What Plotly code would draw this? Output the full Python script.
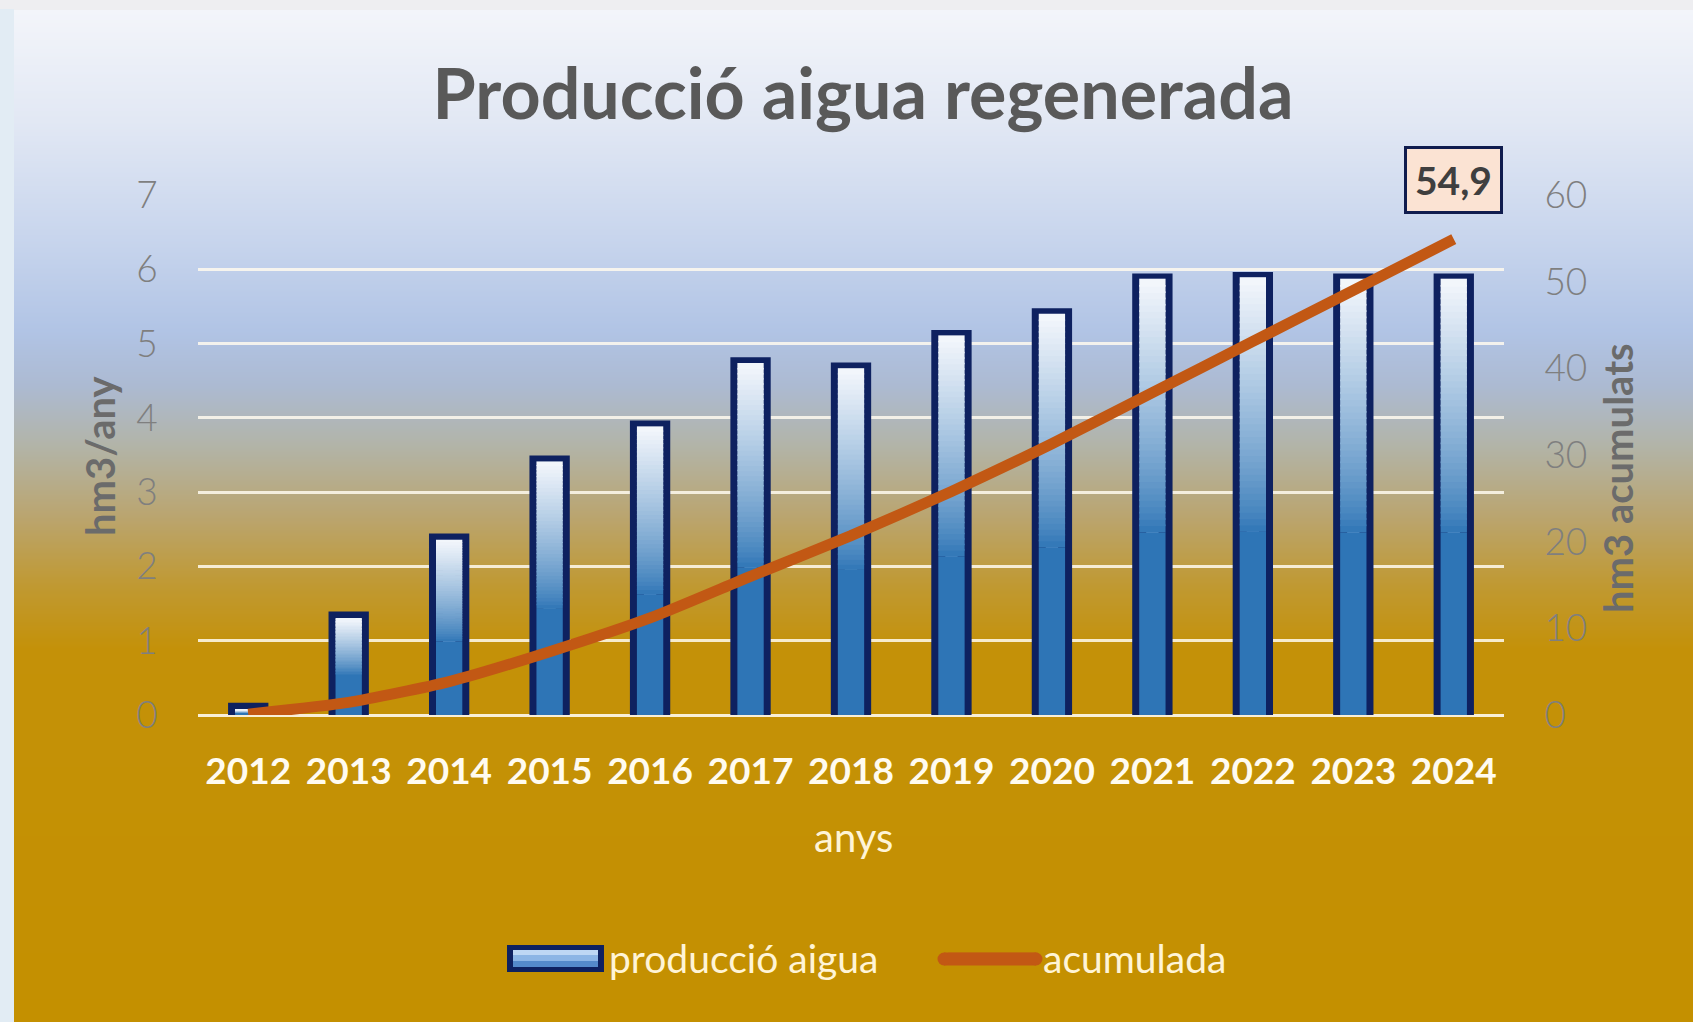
import base64
import struct
import zlib

import plotly.graph_objects as go

# ---------------- data ----------------
years = ["2012", "2013", "2014", "2015", "2016", "2017", "2018",
         "2019", "2020", "2021", "2022", "2023", "2024"]
produccio = [0.07, 1.3, 2.35, 3.4, 3.87, 4.72, 4.65, 5.09, 5.38, 5.85, 5.87, 5.85, 5.85]
acumulada = [0.1, 1.45, 3.85, 7.3, 11.2, 16.0, 20.7, 25.8, 31.3, 37.2, 43.1, 49.0, 54.9]
left_ticks = [0, 1, 2, 3, 4, 5, 6, 7]
right_ticks = [0, 10, 20, 30, 40, 50, 60]
last_label = "54,9"

# ---------------- geometry ----------------
W, H = 1693, 1022
ML, MR, MT, MB = 198, 189, 195, 307
PW, PH = W - ML - MR, H - MT - MB


def px_x(x):
    return (x - ML) / PW


def px_y(y):
    return (H - MB - y) / PH


# ---------------- background gradient image ----------------
stops = [
    (0, (238, 238, 241)), (9, (238, 238, 241)),
    (10, (243, 245, 250)), (120, (226, 232, 244)), (250, (197, 211, 236)),
    (330, (177, 196, 229)), (385, (172, 186, 210)), (445, (178, 180, 168)),
    (515, (186, 165, 112)), (585, (192, 153, 50)), (650, (196, 145, 8)),
    (1022, (196, 144, 0)),
]


def grad_color(y):
    for (y0, c0), (y1, c1) in zip(stops[:-1], stops[1:]):
        if y0 <= y <= y1:
            t = 0 if y1 == y0 else (y - y0) / (y1 - y0)
            return tuple(int(round(a + (b - a) * t)) for a, b in zip(c0, c1))
    return stops[-1][1]


IMG_W = W
strip = bytes((226, 236, 244)) * 14
raw = bytearray()
for y in range(H):
    c = grad_color(y)
    raw += b"\x00"
    if y < 9:
        raw += bytes(c) * IMG_W
    else:
        raw += strip + bytes(c) * (IMG_W - 14)


def png_chunk(tag, data):
    return struct.pack(">I", len(data)) + tag + data + struct.pack(">I", zlib.crc32(tag + data) & 0xFFFFFFFF)


png = b"\x89PNG\r\n\x1a\n"
png += png_chunk(b"IHDR", struct.pack(">IIBBBBB", IMG_W, H, 8, 2, 0, 0, 0))
png += png_chunk(b"IDAT", zlib.compress(bytes(raw), 9))
png += png_chunk(b"IEND", b"")
bg_uri = "data:image/png;base64," + base64.b64encode(png).decode()

# ---------------- figure ----------------
fig = go.Figure()

BLUE = (46, 117, 182)
WHITE = (244, 247, 252)
NAVY = "#0E2160"
BAR_W = 0.262
LINE_COL = "rgb(194,88,20)"

# legend entry for the bars (no marks drawn; its symbol is drawn as a decoration below)
fig.add_trace(go.Scatter(
    x=[None], y=[None], mode="lines", name="producció aigua",
    line=dict(color="rgba(0,0,0,0)", width=2), hoverinfo="skip",
))

# outline bar (drawn first, underneath)
fig.add_trace(go.Bar(
    x=years, y=produccio, width=BAR_W, name="producció aigua",
    marker=dict(color="rgb(120,165,215)", line=dict(color=NAVY, width=14)),
    showlegend=False, hoverinfo="x+y",
))

# gradient fill segments (derived from the data values)
SOLID = 0.42
N = 40
fig.add_trace(go.Bar(
    x=years, y=[v * SOLID for v in produccio], base=[0] * len(produccio),
    width=BAR_W, marker=dict(color="rgb(%d,%d,%d)" % BLUE, line=dict(width=0)),
    showlegend=False, hoverinfo="skip",
))
for i in range(N):
    f0 = SOLID + (1 - SOLID) * i / N
    f1 = SOLID + (1 - SOLID) * (i + 1) / N
    t = ((i + 0.5) / N) ** 0.8
    col = tuple(int(round(b + (w - b) * t)) for b, w in zip(BLUE, WHITE))
    fig.add_trace(go.Bar(
        x=years, y=[v * (f1 - f0) + v * 0.004 for v in produccio],
        base=[v * f0 for v in produccio],
        width=BAR_W, marker=dict(color="rgb(%d,%d,%d)" % col, line=dict(width=0)),
        showlegend=False, hoverinfo="skip",
    ))

# cumulative line
fig.add_trace(go.Scatter(
    x=years, y=acumulada, yaxis="y2", name="acumulada", mode="lines",
    line=dict(color=LINE_COL, width=11, shape="spline", smoothing=0.6),
))

font_main = "Lato, 'Open Sans', sans-serif"
tick_grey = "#7F7F7F"
cream = "#FFF4D6"


# legend symbol decorations (paper coordinates from pixel positions)
def rect(x0, x1, y0, y1, fill, line_col=None, lw=0):
    return dict(type="rect", xref="paper", yref="paper",
                x0=px_x(x0), x1=px_x(x1), y0=px_y(y1), y1=px_y(y0),
                fillcolor=fill, line=dict(width=lw, color=line_col or fill), layer="above")


def circle(cx, cy, r, fill):
    return dict(type="circle", xref="paper", yref="paper",
                x0=px_x(cx - r), x1=px_x(cx + r), y0=px_y(cy + r), y1=px_y(cy - r),
                fillcolor=fill, line=dict(width=0), layer="above")


legend_shapes = [
    rect(507, 604, 945, 972, NAVY),
    rect(513, 598, 950, 955, "rgb(190,215,244)"),
    rect(513, 598, 955, 961, "rgb(140,181,229)"),
    rect(513, 598, 961, 967, "rgb(84,138,203)"),
    dict(type="line", xref="paper", yref="paper",
         x0=px_x(944), x1=px_x(1036), y0=px_y(959), y1=px_y(959),
         line=dict(color=LINE_COL, width=13), layer="above"),
    circle(944, 959, 6.5, LINE_COL),
    circle(1036, 959, 6.5, LINE_COL),
]

fig.update_layout(
    width=W, height=H,
    margin=dict(l=ML, r=MR, t=MT, b=MB),
    paper_bgcolor="rgb(196,144,0)",
    plot_bgcolor="rgba(0,0,0,0)",
    barmode="overlay",
    font=dict(family=font_main),
    title=dict(
        text="<b>Producció aigua regenerada</b>",
        x=863 / W, xanchor="center", xref="container",
        y=1 - 94 / H, yanchor="middle", yref="container",
        font=dict(family=font_main, size=70, color="#595959"),
    ),
    xaxis=dict(
        type="category", range=[-0.5, 12.5],
        showgrid=False, showline=False, zeroline=False,
        ticks="outside", ticklen=24, tickcolor="rgba(0,0,0,0)",
        tickfont=dict(family=font_main, size=37, color="#FFFBF0", weight="bold"),
    ),
    yaxis=dict(
        range=[0, 7], tickvals=left_ticks, showline=False,
        showgrid=True, gridcolor="rgba(255,250,238,0.85)", gridwidth=3,
        zeroline=True, zerolinecolor="rgba(255,250,238,0.9)", zerolinewidth=3,
        ticks="outside", ticklen=32, tickcolor="rgba(0,0,0,0)",
        tickfont=dict(family=font_main, size=37, color=tick_grey, weight=300),
    ),
    yaxis2=dict(
        range=[0, 60], tickvals=right_ticks, overlaying="y", side="right",
        showgrid=False, zeroline=False, showline=False,
        ticks="outside", ticklen=32, tickcolor="rgba(0,0,0,0)",
        tickfont=dict(family=font_main, size=37, color=tick_grey, weight=300),
    ),
    legend=dict(
        orientation="h", x=px_x(509), xanchor="left", y=px_y(958), yanchor="middle",
        font=dict(family=font_main, size=39, color=cream),
        bgcolor="rgba(0,0,0,0)", itemwidth=90, entrywidth=329,
    ),
    images=[dict(
        source=bg_uri, xref="paper", yref="paper",
        x=px_x(0), y=px_y(0), sizex=W / PW, sizey=H / PH,
        sizing="stretch", xanchor="left", yanchor="top", layer="below",
    )],
    shapes=legend_shapes,
    annotations=[
        dict(text="<b>hm3/any</b>", textangle=-90, xref="paper", yref="paper",
             x=px_x(100), y=px_y(456), xanchor="center", yanchor="middle",
             showarrow=False,
             font=dict(family=font_main, size=40, color="#6B6B6B")),
        dict(text="<b>hm3 acumulats</b>", textangle=-90, xref="paper", yref="paper",
             x=px_x(1618), y=px_y(478), xanchor="center", yanchor="middle",
             showarrow=False,
             font=dict(family=font_main, size=40, color="#6B6B6B")),
        dict(text="anys", xref="paper", yref="paper",
             x=px_x(853), y=px_y(837), xanchor="center", yanchor="middle",
             showarrow=False,
             font=dict(family=font_main, size=40, color=cream)),
        dict(text="<b>" + last_label + "</b>", x=len(years) - 1, y=acumulada[-1],
             xref="x", yref="y2", yshift=59, xanchor="center", yanchor="middle",
             showarrow=False,
             bgcolor="#FBE3D3", bordercolor="#101C4E", borderwidth=3, borderpad=8,
             font=dict(family=font_main, size=39, color="#3F3F3F")),
    ],
)

fig.write_html("out.html", config={"displayModeBar": False},
               post_script="document.body.style.margin='0';")
